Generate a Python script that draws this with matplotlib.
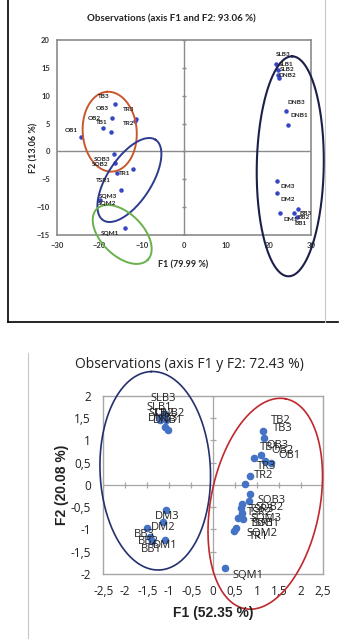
import numpy as np
import matplotlib
matplotlib.use('Agg')
import matplotlib.pyplot as plt

W, H = 351, 639

# ---- top chart: observations, F1 79.99 % / F2 13.06 %
top_names = ['OB1', 'OB2', 'TB1', 'OB3', 'TB3', 'TR2', 'TR3',
             'SOB3', 'SOB2', 'TR1', 'TSR1', 'SQM3', 'SQM2', 'SQM1',
             'SLB3', 'SLB1', 'SLB2', 'DNB2', 'DNB3', 'DNB1',
             'DM3', 'DM2', 'DM1', 'BB3', 'BB2', 'BB1']
top_f1 = [-24.4, -19.2, -17.3, -17.1, -16.3, -11.5, -11.3,
          -16.5, -16.3, -15.8, -12.0, -15.0, -19.8, -13.9,
          21.65, 22.3, 22.1, 22.4, 24.0, 24.6,
          21.9, 22.0, 22.7, 27.0, 26.05, 26.6]
top_f2 = [2.6, 4.2, 3.55, 6.05, 8.45, 5.5, 5.9,
          -0.5, -2.0, -3.8, -3.2, -6.9, -8.7, -13.7,
          15.7, 14.7, 13.7, 13.1, 7.25, 4.74,
          -5.3, -7.4, -11.0, -10.4, -11.0, -11.7]
top_xticks = [-30, -20, -10, 0, 10, 20, 30]
top_yticks = [-15, -10, -5, 0, 5, 10, 15, 20]

# ---- bottom chart: observations, F1 52.35 % / F2 20.08 %
bot_names = ['TB2', 'TB3', 'TB1', 'OB3', 'OB2', 'OB1', 'TR2', 'TR3',
             'SOB3', 'SOB2', 'TSR3', 'TSR2', 'SQM3', 'TSR1', 'SOB1', 'SQM2', 'TR1', 'SQM1',
             'SLB3', 'SLB1', 'SLB2', 'DNB2', 'DNB3', 'DNB1',
             'DM3', 'DM2', 'DM1', 'BB3', 'BB2', 'BB1']
bot_f1 = [1.134, 1.159, 1.084, 0.925, 1.175, 1.311, 0.85, 0.736,
          0.834, 0.811, 0.659, 0.63, 0.659, 0.568, 0.682, 0.516, 0.477, 0.266,
          -1.10, -1.22, -1.20, -1.08, -1.10, -1.03,
          -1.075, -1.152, -1.098, -1.514, -1.439, -1.40]
bot_f2 = [1.215, 1.058, 0.670, 0.596, 0.543, 0.484, 0.206, 0.01,
          -0.21, -0.354, -0.435, -0.51, -0.637, -0.735, -0.765, -0.973, -1.027, -1.87,
          1.60, 1.52, 1.45, 1.45, 1.30, 1.24,
          -0.563, -0.825, -1.235, -0.96, -1.16, -1.27]
bot_ticks_x = [-2.5, -2, -1.5, -1, -0.5, 0, 0.5, 1, 1.5, 2, 2.5]
bot_ticks_y = [-2, -1.5, -1, -0.5, 0, 0.5, 1, 1.5, 2]

# label offsets in pixels (right, down)
top_off = [(-9, -6), (-8, -10), (-9, -9), (-9, -9), (-11, -8), (-7, 3), (-8, -9),
           (-12, 5), (-15, 2), (7, 1), (-30, 11), (-12, 7), (7, 4), (-15, 6),
           (8, -9), (8, -5), (10, -6), (9, -3), (11, -9), (11, -10),
           (11, 6), (11, 7), (11, 7), (7, 4), (9, 5), (4, 7)]
bot_off = [(18, -10), (19, -9), (9, -7), (24, -13), (18, -10), (19, -8), (13, 0), (21, -18),
           (22, 6), (21, 7), (19, 5), (19, 5), (24, 5), (24, 6), (22, 5), (26, 5), (24, 6), (23, 7),
           (-2, -15), (0, -10), (1, -7), (4, -7), (-2, -8), (0, -9),
           (1, 7), (1, 6), (0, 6), (-2, 7), (-2, 5), (0, 8)]


def px_box(l, t, r, b):
    return [l / W, 1 - b / H, (r - l) / W, (b - t) / H]


def ring(ax, cx, cy, a, b, ang, color, lw):
    # ellipse given in pixels around a data centre
    x0, x1 = ax.get_xlim()
    y0, y1 = ax.get_ylim()
    pos = ax.get_position()
    kx = (x1 - x0) / (pos.width * W)
    ky = (y1 - y0) / (pos.height * H)
    t = np.linspace(0, 2 * np.pi, 300)
    r = np.radians(ang)
    dx = a * np.cos(t) * np.cos(r) - b * np.sin(t) * np.sin(r)
    dy = a * np.cos(t) * np.sin(r) + b * np.sin(t) * np.cos(r)
    ax.plot(cx + dx * kx, cy + dy * ky, color=color, lw=lw, clip_on=False, zorder=4)


def labels(ax, names, xs, ys, offs, **kw):
    for n, x, y, (dx, dy) in zip(names, xs, ys, offs):
        ax.annotate(n, (x, y), xytext=(dx * 0.72, -dy * 0.72), textcoords='offset points',
                    ha='center', va='center', zorder=5, annotation_clip=False, **kw)


fig = plt.figure(figsize=(W / 100, H / 100), dpi=100)

# ================= top =================
ax1 = fig.add_axes(px_box(57, 40, 311, 235))
ax1.set_xlim(-30, 30)
ax1.set_ylim(-15, 20)
ax1.set_xticks(top_xticks)
ax1.set_yticks(top_yticks)
ax1.tick_params(length=0, labelsize=5.5, pad=5, colors='#333333')
for lab in ax1.get_xticklabels() + ax1.get_yticklabels():
    lab.set_fontweight('bold')
    lab.set_family('Lato')
for s in ax1.spines.values():
    s.set_color('#8a8a8a')
    s.set_linewidth(1.2)
ax1.axhline(0, color='#8a8a8a', lw=1)
ax1.axvline(0, color='#8a8a8a', lw=1)
ax1.plot([0] * len(top_yticks), top_yticks, ls='none', marker='_', ms=3, color='#8a8a8a')
ax1.scatter(top_f1, top_f2, s=5, color='#3646c4', zorder=3)
labels(ax1, top_names, top_f1, top_f2, top_off, fontsize=4.6, fontweight='bold',
       color='#222222', family='Lato')
ring(ax1, -17.55, 3.54, 40, 27, 94, '#c8582e', 1.4)
ring(ax1, -12.9, -5.13, 48, 22, 57, '#2c3a8f', 1.4)
ring(ax1, -14.6, -14.9, 36, 21, -45, '#6ab04c', 1.4)
ring(ax1, 25.1, -2.67, 110, 33.5, 89, '#1c1f4a', 1.5)

fig.text(171 / W, 1 - 19 / H, 'Observations (axis F1 and F2: 93.06 %)', ha='center', va='center',
         fontsize=7, fontweight='bold', family='Lato', color='#222222')
fig.text(183 / W, 1 - 265 / H, 'F1 (79.99 %)', ha='center', va='center',
         fontsize=6.5, fontweight='bold', family='Lato', color='#222222')
fig.text(34 / W, 1 - 148 / H, 'F2 (13.06 %)', ha='center', va='center', rotation=90,
         fontsize=6.5, fontweight='bold', family='Lato', color='#222222')

# frame lines of the top picture
fig.add_artist(plt.Line2D([8 / W, 8 / W], [1, 1 - 322 / H], color='black', lw=1.2))
fig.add_artist(plt.Line2D([8 / W, 338 / W], [1 - 322 / H, 1 - 322 / H], color='black', lw=1.2))
fig.add_artist(plt.Line2D([325 / W, 325 / W], [1, 1 - 322 / H], color='#c8c8c8', lw=0.8))

# ================= bottom =================
ax2 = fig.add_axes(px_box(103.3, 395.7, 323, 574))
ax2.set_xlim(-2.5, 2.5)
ax2.set_ylim(-2, 2)
ax2.set_xticks(bot_ticks_x)
ax2.set_yticks(bot_ticks_y)
ax2.set_xticklabels([f'{v:g}'.replace('.', ',') for v in bot_ticks_x])
ax2.set_yticklabels([f'{v:g}'.replace('.', ',') for v in bot_ticks_y])
ax2.tick_params(length=0, labelsize=8.5, colors='#222222')
ax2.tick_params(axis='y', pad=9)
ax2.tick_params(axis='x', pad=8)
for lab in ax2.get_xticklabels() + ax2.get_yticklabels():
    lab.set_family('Open Sans')
for s in ax2.spines.values():
    s.set_color('#a6a6a6')
    s.set_linewidth(1)
ax2.axhline(0, color='#a6a6a6', lw=0.9)
ax2.axvline(0, color='#a6a6a6', lw=0.9)
ax2.plot(bot_ticks_x, [0] * len(bot_ticks_x), ls='none', marker='|', ms=5, mew=0.9, color='#a6a6a6')
ax2.plot([0] * len(bot_ticks_y), bot_ticks_y, ls='none', marker='_', ms=5, mew=0.9, color='#a6a6a6')
ax2.scatter(bot_f1, bot_f2, s=20, color='#4472c4', zorder=3, clip_on=False)
labels(ax2, bot_names, bot_f1, bot_f2, bot_off, fontsize=8, color='#222222', family='Open Sans')
ring(ax2, -1.318, 0.316, 99.3, 55.2, 92.4, '#24306e', 1.2)
ring(ax2, 1.186, -0.424, 106.9, 54.5, 79, '#c0282d', 1.2)

fig.text(189 / W, 1 - 365 / H, 'Observations (axis F1 y F2: 72.43 %)', ha='center', va='center',
         fontsize=10, family='Open Sans', color='#222222')
fig.text(213 / W, 1 - 613 / H, 'F1 (52.35 %)', ha='center', va='center',
         fontsize=10, fontweight='bold', family='Liberation Sans', color='#222222')
fig.text(62 / W, 1 - 485 / H, 'F2 (20.08 %)', ha='center', va='center', rotation=90,
         fontsize=10, fontweight='bold', family='Liberation Sans', color='#222222')
fig.add_artist(plt.Line2D([28 / W, 28 / W], [1 - 353 / H, 0], color='#c8c8c8', lw=0.8))

fig.savefig('out.png', dpi=100)
